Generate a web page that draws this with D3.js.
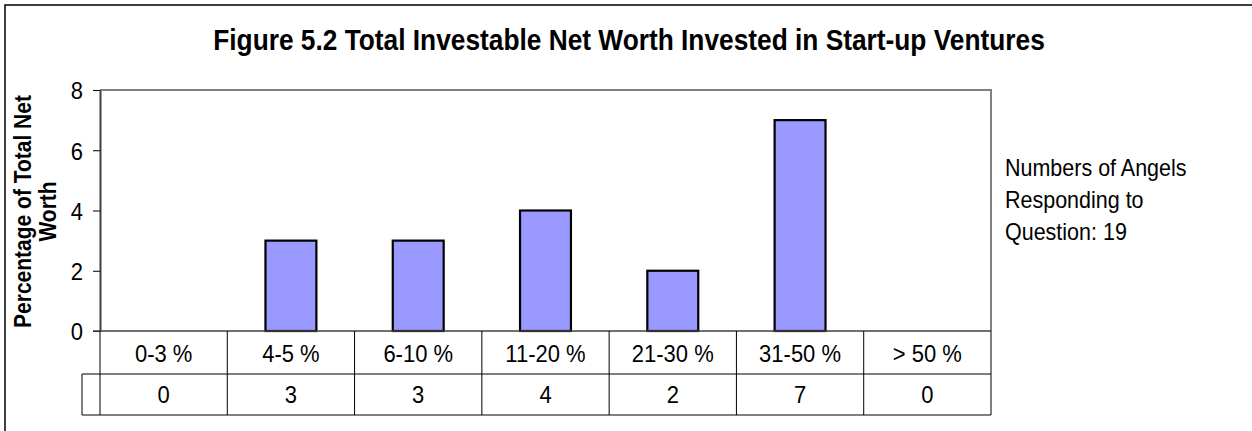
<!DOCTYPE html>
<meta charset="utf-8">
<style>

body {
  margin: 0;
  background: #fff;
}

text {
  font-family: "Liberation Sans", Arial, sans-serif;
  fill: #000;
}

</style>
<svg></svg>
<script src="https://d3js.org/d3.v7.min.js"></script>
<script>

var categories = ["0-3 %", "4-5 %", "6-10 %", "11-20 %", "21-30 %", "31-50 %", "> 50 %"];
var values = [0, 3, 3, 4, 2, 7, 0];
var yTicks = [0, 2, 4, 6, 8];
var titleText = "Figure 5.2 Total Investable Net Worth Invested in Start-up Ventures";
var yLabelLines = ["Percentage of Total Net", "Worth"];
var noteLines = ["Numbers of Angels", "Responding to", "Question: 19"];

var width = 1252,
    height = 431;

var plot = {left: 100, right: 991, top: 90, bottom: 331},
    row1 = 374,
    row2 = 415,
    keyLeft = 82;

// the source text looks a bit taller than it is wide
var stretch = 1.12;

function tall(sel, y) {
  sel.attr("transform", "translate(0," + y + ") scale(1," + stretch + ") translate(0," + (-y) + ")");
}

var svg = d3.select("svg")
    .attr("width", width)
    .attr("height", height);

// outer chart border (runs off the right and bottom edges)
svg.append("rect")
    .attr("x", 5)
    .attr("y", 5)
    .attr("width", 1300)
    .attr("height", 500)
    .attr("fill", "#fff")
    .attr("stroke", "#000")
    .attr("stroke-width", 1.5);

var x = d3.scaleBand()
    .domain(categories)
    .range([plot.left, plot.right]);

var y = d3.scaleLinear()
    .domain([0, 8])
    .range([plot.bottom, plot.top]);

// plot area frame: grey top and right
svg.append("path")
    .attr("d", "M" + plot.left + "," + plot.top + "H" + plot.right + "V" + plot.bottom)
    .attr("fill", "none")
    .attr("stroke", "#808080")
    .attr("stroke-width", 2);

// bars
svg.append("g")
  .selectAll("rect")
  .data(values)
  .enter().append("rect")
    .attr("x", function(d, i) { return x(categories[i]) + x.bandwidth() * 0.3; })
    .attr("y", function(d) { return y(d); })
    .attr("width", x.bandwidth() * 0.4)
    .attr("height", function(d) { return y(0) - y(d); })
    .attr("fill", "#9999ff")
    .attr("stroke", "#000")
    .attr("stroke-width", function(d) { return d > 0 ? 2.2 : 0; });

// y axis
var yAxis = svg.append("g")
    .attr("transform", "translate(" + plot.left + ",0)")
    .call(d3.axisLeft(y).tickValues(yTicks).tickSize(7).tickPadding(10).tickSizeOuter(0));

yAxis.select(".domain")
    .attr("stroke", "#404040")
    .attr("stroke-width", 2);

yAxis.selectAll(".tick line")
    .attr("stroke", "#000");

yAxis.selectAll(".tick text")
    .attr("font-size", "22px")
    .attr("font-family", "Liberation Sans, Arial, sans-serif")
    .attr("dy", "0.36em")
    .each(function() { tall(d3.select(this), 0); });

// data table under the axis
var table = svg.append("g")
    .attr("stroke", "#000")
    .attr("stroke-width", 1);

table.append("line")
    .attr("x1", plot.left - 7).attr("x2", plot.right)
    .attr("y1", plot.bottom).attr("y2", plot.bottom)
    .attr("stroke", "#404040")
    .attr("stroke-width", 1.5);

table.append("line")
    .attr("x1", keyLeft).attr("x2", plot.right)
    .attr("y1", row1).attr("y2", row1);

table.append("line")
    .attr("x1", keyLeft).attr("x2", plot.right)
    .attr("y1", row2).attr("y2", row2)
    .attr("stroke", "#808080")
    .attr("stroke-width", 2);

table.append("line")
    .attr("x1", keyLeft).attr("x2", keyLeft)
    .attr("y1", row1).attr("y2", row2);

table.selectAll(".vline")
  .data(categories.concat(["end"]))
  .enter().append("line")
    .attr("class", "vline")
    .attr("x1", function(d, i) { return i < categories.length ? x(d) : plot.right; })
    .attr("x2", function(d, i) { return i < categories.length ? x(d) : plot.right; })
    .attr("y1", plot.bottom)
    .attr("y2", row2);

svg.append("g")
    .call(tall, 362)
  .selectAll("text")
  .data(categories)
  .enter().append("text")
    .attr("x", function(d) { return x(d) + x.bandwidth() / 2; })
    .attr("y", 362)
    .attr("text-anchor", "middle")
    .attr("font-size", "22px")
    .text(function(d) { return d; });

svg.append("g")
    .call(tall, 403)
  .selectAll("text")
  .data(values)
  .enter().append("text")
    .attr("x", function(d, i) { return x(categories[i]) + x.bandwidth() / 2; })
    .attr("y", 403)
    .attr("text-anchor", "middle")
    .attr("font-size", "22px")
    .text(function(d) { return d; });

// title
svg.append("text")
    .attr("x", 629)
    .attr("y", 50)
    .attr("text-anchor", "middle")
    .attr("font-size", "26.3px")
    .attr("font-weight", "bold")
    .call(tall, 50)
    .text(titleText);

// y axis title, two lines (glyphs a little wider across than their run)
svg.append("text")
    .attr("transform", "translate(31," + ((plot.top + plot.bottom) / 2 + 1) + ") scale(1.1,1) rotate(-90)")
    .attr("text-anchor", "middle")
    .attr("font-size", "21px")
    .attr("font-weight", "bold")
  .selectAll("tspan")
  .data(yLabelLines)
  .enter().append("tspan")
    .attr("x", 0)
    .attr("y", function(d, i) { return i * 23; })
    .text(function(d) { return d; });

// note on the right
svg.append("g")
    .call(tall, 208)
  .append("text")
    .attr("font-size", "21.5px")
  .selectAll("tspan")
  .data(noteLines)
  .enter().append("tspan")
    .attr("x", 1005)
    .attr("y", function(d, i) { return 179 + i * 29; })
    .text(function(d) { return d; });

</script>
